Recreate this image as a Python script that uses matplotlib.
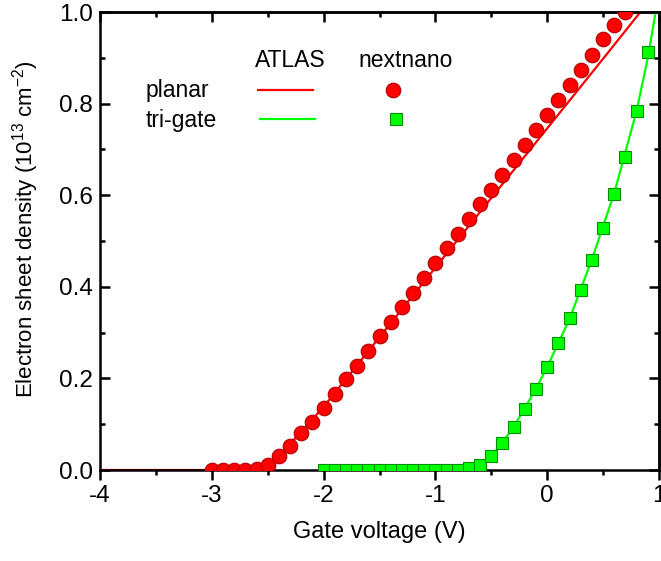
import numpy as np
import matplotlib
matplotlib.use("Agg")
import matplotlib.pyplot as plt

#DATA

# nextnano, planar (circles)
planar_v = [-3.0, -2.9, -2.8, -2.7, -2.6, -2.5, -2.4, -2.3, -2.2, -2.1,
            -2.0, -1.9, -1.8, -1.7, -1.6, -1.5, -1.4, -1.3, -1.2, -1.1,
            -1.0, -0.9, -0.8, -0.7, -0.6, -0.5, -0.4, -0.3, -0.2, -0.1,
            0.0, 0.1, 0.2, 0.3, 0.4, 0.5, 0.6, 0.7]
planar_n = [0.0, 0.0, 0.0, 0.0, 0.002, 0.01, 0.03, 0.052, 0.08, 0.105,
            0.135, 0.165, 0.198, 0.228, 0.26, 0.292, 0.323, 0.355, 0.387, 0.42,
            0.452, 0.484, 0.516, 0.548, 0.58, 0.612, 0.645, 0.677, 0.71, 0.742,
            0.775, 0.807, 0.84, 0.873, 0.906, 0.94, 0.972, 1.0]

# nextnano, tri-gate (squares)
trigate_v = [-2.0, -1.9, -1.8, -1.7, -1.6, -1.5, -1.4, -1.3, -1.2, -1.1,
             -1.0, -0.9, -0.8, -0.7, -0.6, -0.5, -0.4, -0.3, -0.2, -0.1,
             0.0, 0.1, 0.2, 0.3, 0.4, 0.5, 0.6, 0.7, 0.8, 0.9]
trigate_n = [0.0, 0.0, 0.0, 0.0, 0.0, 0.0, 0.0, 0.0, 0.0, 0.0,
             0.0, 0.0, 0.0, 0.004, 0.011, 0.031, 0.059, 0.094, 0.133, 0.177,
             0.225, 0.277, 0.332, 0.393, 0.459, 0.528, 0.603, 0.683, 0.783, 0.913]

# ATLAS lines
atlas_planar_v = [-4.0, -2.7, -2.6, -2.5, -2.4, -2.3, -2.2, -2.0, -1.5, -1.0, -0.5, 0.0, 0.5, 0.85]
atlas_planar_n = [0.0, 0.0, 0.003, 0.013, 0.032, 0.057, 0.084, 0.138, 0.29, 0.442, 0.594, 0.746, 0.898, 1.005]

atlas_trigate_v = [-2.0, -0.7, -0.6, -0.5, -0.4, -0.3, -0.2, -0.1, 0.0, 0.2, 0.4, 0.6, 0.8, 0.9, 0.97]
atlas_trigate_n = [0.0, 0.0, 0.006, 0.03, 0.06, 0.095, 0.135, 0.178, 0.225, 0.33, 0.46, 0.605, 0.785, 0.9, 1.0]

x_ticks = [-4, -3, -2, -1, 0, 1]
y_ticks = [0.0, 0.2, 0.4, 0.6, 0.8, 1.0]
y_ticklabels = ["0.0", "0.2", "0.4", "0.6", "0.8", "1.0"]

#STYLE
plt.rcParams["font.family"] = ["Liberation Sans", "DejaVu Sans"]
plt.rcParams["mathtext.default"] = "regular"
plt.rcParams["axes.unicode_minus"] = False

RED = "#ff0000"
GREEN = "#00ff00"

#PLOT
fig = plt.figure(figsize=(6.61, 5.61), dpi=100)
ax = fig.add_axes([0.1513, 0.1622, 0.8457, 0.8164])

ax.plot(atlas_planar_v, atlas_planar_n, color=RED, lw=1.6, zorder=2)
ax.plot(atlas_trigate_v, atlas_trigate_n, color=GREEN, lw=1.6, zorder=2)
ax.plot(planar_v, planar_n, "o", ms=10.5, mfc=RED, mec="#b00000", mew=0.8, zorder=3)
ax.plot(trigate_v, trigate_n, "s", ms=8.5, mfc=GREEN, mec="#009000", mew=0.8, zorder=3)

ax.set_xlim(-4, 1)
ax.set_ylim(0, 1)
ax.set_xticks(x_ticks)
ax.set_xticks(np.arange(-3.5, 1, 1.0), minor=True)
ax.set_yticks(y_ticks)
ax.set_yticks(np.arange(0.1, 1.0, 0.2), minor=True)
ax.set_yticklabels(y_ticklabels)

for sp in ax.spines.values():
    sp.set_linewidth(1.8)

ax.tick_params(axis="x", which="both", direction="out", top=False, width=1.8, labelsize=17.5, pad=4)
ax.tick_params(axis="y", which="both", direction="in", right=False, width=1.8, labelsize=17.5, pad=5)
ax.tick_params(which="major", length=7)
ax.tick_params(which="minor", length=3.5)

# mirror ticks on top/right pointing inward
top = ax.secondary_xaxis("top")
top.set_xticks(x_ticks)
top.set_xticks(np.arange(-3.5, 1, 1.0), minor=True)
top.tick_params(which="both", direction="in", width=1.8, labeltop=False)
right = ax.secondary_yaxis("right")
right.set_yticks(y_ticks)
right.set_yticks(np.arange(0.1, 1.0, 0.2), minor=True)
right.tick_params(which="both", direction="in", width=1.8, labelright=False)
for sec, side in ((top, "top"), (right, "right")):
    sec.tick_params(which="major", length=7)
    sec.tick_params(which="minor", length=3.5)
    sec.spines[side].set_linewidth(1.8)

ax.set_xlabel("Gate voltage (V)", fontsize=17, labelpad=10)
ax.set_ylabel("Electron sheet density (10$^{13}$ cm$^{-2}$)", fontsize=16)
ax.yaxis.set_label_coords(-0.105, 0.526)

#LEGEND (hand placed, two columns)
tr = ax.transAxes
ax.text(0.340, 0.895, "ATLAS", transform=tr, fontsize=16.5, ha="center", va="center")
ax.text(0.547, 0.895, "nextnano", transform=tr, fontsize=16.5, ha="center", va="center")
ax.text(0.082, 0.828, "planar", transform=tr, fontsize=16.5, ha="left", va="center")
ax.text(0.082, 0.763, "tri-gate", transform=tr, fontsize=16.5, ha="left", va="center")
ax.plot([0.283, 0.381], [0.830, 0.830], transform=tr, color=RED, lw=1.6)
ax.plot([0.286, 0.384], [0.766, 0.766], transform=tr, color=GREEN, lw=1.6)
ax.plot([0.524], [0.830], "o", transform=tr, ms=10.5, mfc=RED, mec="#b00000", mew=0.8)
ax.plot([0.530], [0.766], "s", transform=tr, ms=8.5, mfc=GREEN, mec="#009000", mew=0.8)

plt.savefig("out.png", dpi=100)
